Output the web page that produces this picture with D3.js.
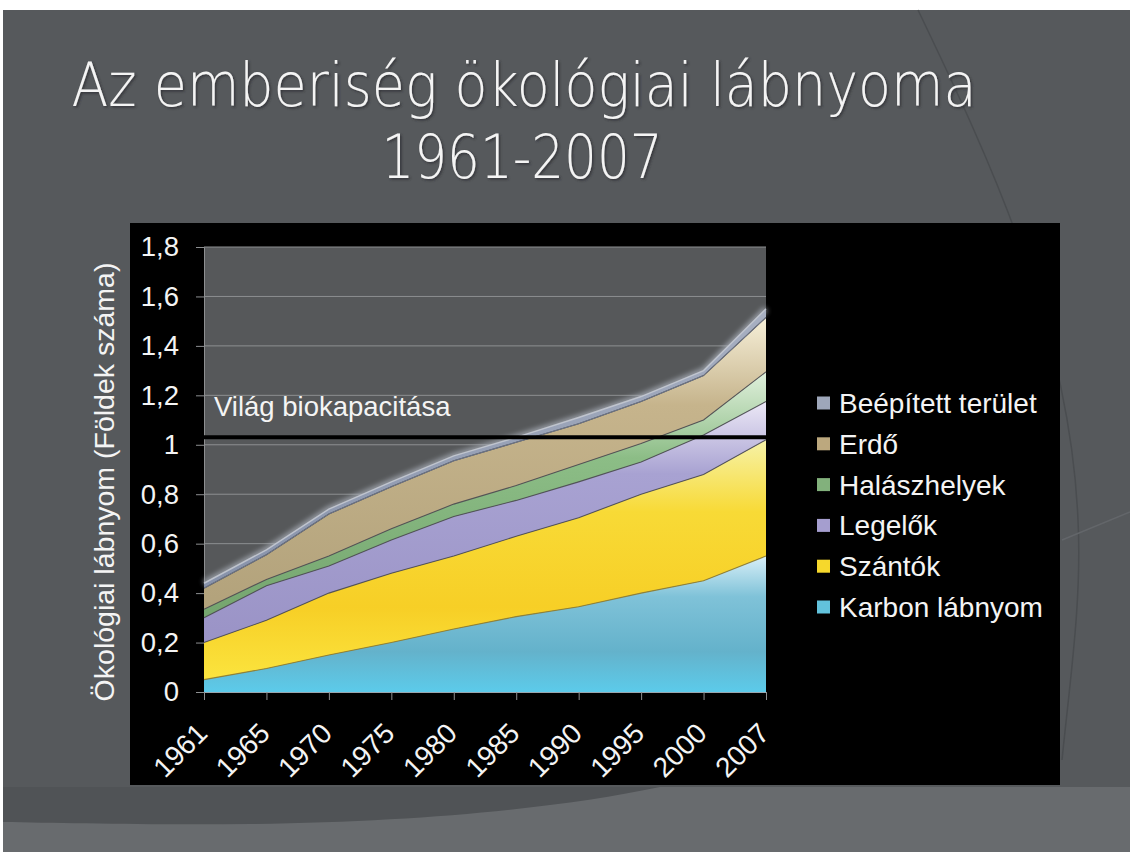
<!DOCTYPE html>
<html lang="hu">
<head>
<meta charset="UTF-8">
<script src="https://d3js.org/d3.v7.min.js"></script>
<title>Ökológiai lábnyom</title>
<style>
  body { margin: 0; padding: 0; background: #fff; }
  svg { display: block; }
  .lbl { font-family: "Liberation Sans", Arial, sans-serif; fill: #f4f4f4; }
</style>
</head>
<body>
<div id="chart"></div>
<script>
// adatok (Földek száma)
const years = ["1961", "1965", "1970", "1975", "1980", "1985", "1990", "1995", "2000", "2007"];
const karbon   = [0.05, 0.095, 0.15, 0.20, 0.255, 0.305, 0.345, 0.40, 0.45, 0.55];
const szantok  = [0.15, 0.195, 0.25, 0.28, 0.295, 0.325, 0.36, 0.40, 0.43, 0.47];
const legelok  = [0.10, 0.14, 0.11, 0.135, 0.16, 0.145, 0.145, 0.13, 0.16, 0.155];
const halasz   = [0.035, 0.025, 0.04, 0.045, 0.05, 0.06, 0.07, 0.075, 0.06, 0.12];
const erdo     = [0.085, 0.10, 0.17, 0.17, 0.175, 0.175, 0.165, 0.17, 0.18, 0.22];
const beepitett = [0.02, 0.02, 0.02, 0.02, 0.02, 0.02, 0.025, 0.02, 0.02, 0.035];
const biokapacitas = 1.03;
const yTicks = [0, 0.2, 0.4, 0.6, 0.8, 1, 1.2, 1.4, 1.6, 1.8];

const keys = ["karbon", "szantok", "legelok", "halasz", "erdo", "beepitett"];
const names = {
  karbon: "Karbon lábnyom", szantok: "Szántók", legelok: "Legelők",
  halasz: "Halászhelyek", erdo: "Erdő", beepitett: "Beépített terület"
};
const legendCol = {
  karbon: "#62c2dc", szantok: "#f6d82c", legelok: "#a59ecf",
  halasz: "#82b17c", erdo: "#bca87e", beepitett: "#9ea7ba"
};
// gradient stops [offset, color]
const grads = {
  karbon:   [[0, "#d8eff8"], [0.3, "#7fc2d8"], [0.7, "#64b2cb"], [1, "#5ccbea"]],
  szantok:  [[0, "#f6f2a8"], [0.3, "#f8da36"], [0.7, "#f7cf26"], [1, "#fbe43e"]],
  legelok:  [[0, "#ece8f6"], [0.3, "#a8a2d2"], [1, "#9a93c6"]],
  halasz:   [[0, "#e0f0dc"], [0.35, "#8cbd86"], [1, "#74a56e"]],
  erdo:     [[0, "#f6efd8"], [0.3, "#c6b48c"], [1, "#b2a27b"]],
  beepitett:[[0, "#a8b0c2"], [1, "#8792aa"]]
};

const rows = years.map((yr, i) => ({
  year: yr, karbon: karbon[i], szantok: szantok[i], legelok: legelok[i],
  halasz: halasz[i], erdo: erdo[i], beepitett: beepitett[i]
}));

const W = 1130, H = 852;
const svg = d3.select("#chart").append("svg").attr("width", W).attr("height", H);
const defs = svg.append("defs");

// háttér (dia)
svg.append("rect").attr("width", W).attr("height", H).attr("fill", "#ffffff");
svg.append("rect").attr("x", 3).attr("y", 10).attr("width", W - 3).attr("height", H - 10).attr("fill", "#56595c");
svg.append("rect").attr("x", 3).attr("y", 787).attr("width", W - 3).attr("height", H - 787).attr("fill", "#686b6e");
svg.append("path")
  .attr("d", "M3,787 L660,787 C560,808 420,822 250,824 C150,825 60,823 3,822 Z")
  .attr("fill", "#505356");
svg.append("path")
  .attr("d", "M918,10 C990,160 1070,330 1078,520 C1082,600 1070,680 1062,760")
  .attr("fill", "none").attr("stroke", "#4a4d50").attr("stroke-width", 1.5);
svg.append("path")
  .attr("d", "M1062,540 L1130,512")
  .attr("fill", "none").attr("stroke", "#63666a").attr("stroke-width", 1.5);

// fekete diagramdoboz
svg.append("rect").attr("x", 130).attr("y", 223).attr("width", 930).attr("height", 562).attr("fill", "#000");

const x0 = 204, x1 = 766, yBottom = 692, yTop = 247;
const x = d3.scalePoint().domain(years).range([x0, x1]);
const y = d3.scaleLinear().domain([0, 1.8]).range([yBottom, yTop]);

// rajzterület háttere
svg.append("rect").attr("x", x0).attr("y", yTop).attr("width", x1 - x0).attr("height", yBottom - yTop)
  .attr("fill", "#56585a");

// rácsvonalak
svg.append("g").selectAll("line").data(yTicks.slice(1)).join("line")
  .attr("x1", x0).attr("x2", x1)
  .attr("y1", d => y(d)).attr("y2", d => y(d))
  .attr("stroke", "#8d8f91").attr("stroke-width", 1);

const fmt = d => String(d).replace(".", ",");

const yAxis = svg.append("g").attr("transform", `translate(${x0},0)`)
  .call(d3.axisLeft(y).tickValues(yTicks).tickSize(8).tickPadding(17).tickFormat(fmt));
yAxis.select(".domain").attr("stroke", "#8d8f91");
yAxis.selectAll(".tick line").attr("stroke", "#8d8f91");
yAxis.selectAll("text").attr("class", "lbl").attr("font-size", 27.5).attr("fill", "#f4f4f4");

// rétegek
const stack = d3.stack().keys(keys);
const layers = stack(rows);

keys.forEach(k => {
  const g = defs.append("linearGradient").attr("id", "g_" + k)
    .attr("x1", 0).attr("y1", 0).attr("x2", 0).attr("y2", 1);
  grads[k].forEach(s => g.append("stop").attr("offset", s[0]).attr("stop-color", s[1]));
});

const glow = defs.append("filter").attr("id", "glow")
  .attr("x", "-5%").attr("y", "-20%").attr("width", "110%").attr("height", "140%");
glow.append("feGaussianBlur").attr("stdDeviation", 2.5);

const shadow = defs.append("filter").attr("id", "tshadow");
shadow.append("feDropShadow").attr("dx", 1.5).attr("dy", 1.5).attr("stdDeviation", 1)
  .attr("flood-color", "#2a2c2e").attr("flood-opacity", 0.8);

const area = d3.area()
  .x(d => x(d.data.year))
  .y0(d => y(d[0]))
  .y1(d => y(d[1]));
const topLine = d3.line()
  .x(d => x(d.data.year))
  .y(d => y(d[1]));

const topLayer = layers[layers.length - 1];
svg.append("path").datum(topLayer).attr("d", topLine)
  .attr("fill", "none").attr("stroke", "#aeb4be").attr("stroke-width", 6)
  .attr("opacity", 0.75).attr("filter", "url(#glow)");

svg.append("g").selectAll("path").data(layers).join("path")
  .attr("d", area)
  .attr("fill", d => `url(#g_${d.key})`);

svg.append("g").selectAll("path").data(layers).join("path")
  .attr("d", topLine)
  .attr("fill", "none")
  .attr("stroke", d => d.key === "karbon" ? "#8c7c34" : (d.key === "beepitett" ? "#c4c9d2" : "#4d4d52"))
  .attr("stroke-width", d => d.key === "beepitett" ? 1.5 : 1.1)
  .attr("opacity", 0.9);
svg.append("path").datum(layers[layers.length - 2]).attr("d", topLine)
  .attr("fill", "none").attr("stroke", "#6e7688").attr("stroke-width", 1);

// x tengely
const xAxis = svg.append("g").attr("transform", `translate(0,${yBottom})`)
  .call(d3.axisBottom(x).tickSize(8).tickFormat(""));
xAxis.select(".domain").attr("stroke", "#9aa6ae");
xAxis.selectAll(".tick line").attr("stroke", "#8d8f91");

svg.append("g").selectAll("text").data(years).join("text")
  .attr("class", "lbl")
  .attr("font-size", 28)
  .attr("text-anchor", "end")
  .attr("transform", d => `translate(${x(d) + 5},${735}) rotate(-45)`)
  .text(d => d);

// világ biokapacitása
svg.append("line")
  .attr("x1", x0).attr("x2", x1)
  .attr("y1", y(biokapacitas)).attr("y2", y(biokapacitas))
  .attr("stroke", "#000").attr("stroke-width", 4);
svg.append("text").attr("class", "lbl").attr("font-size", 27.5)
  .attr("x", x0 + 10).attr("y", y(biokapacitas) - 21)
  .text("Világ biokapacitása");

// tengelycím
svg.append("text").attr("class", "lbl").attr("font-size", 28.5)
  .attr("text-anchor", "middle")
  .attr("transform", "translate(104,482) rotate(-90)")
  .attr("dominant-baseline", "central")
  .text("Ökológiai lábnyom (Földek száma)");

// jelmagyarázat
const legendKeys = keys.slice().reverse();
const leg = svg.append("g").selectAll("g").data(legendKeys).join("g")
  .attr("transform", (d, i) => `translate(817,${403 + i * 40.8})`);
leg.append("rect").attr("x", 0).attr("y", -6.5).attr("width", 13).attr("height", 13)
  .attr("fill", d => legendCol[d]);
leg.append("text").attr("class", "lbl").attr("font-size", 28)
  .attr("x", 22).attr("dy", "0.36em")
  .text(d => names[d]);

// cím
const title = svg.append("g").attr("font-family", "'DejaVu Sans', sans-serif")
  .attr("font-weight", 200)
  .attr("fill", "#f4f4f4").attr("filter", "url(#tshadow)")
  .attr("text-anchor", "middle");
title.append("text").attr("x", 524).attr("y", 106).attr("font-size", 60)
  .attr("textLength", 905).attr("lengthAdjust", "spacingAndGlyphs")
  .text("Az emberiség ökológiai lábnyoma");
title.append("text").attr("x", 522).attr("y", 178).attr("font-size", 60)
  .attr("textLength", 281).attr("lengthAdjust", "spacingAndGlyphs")
  .text("1961-2007");
</script>
</body>
</html>
